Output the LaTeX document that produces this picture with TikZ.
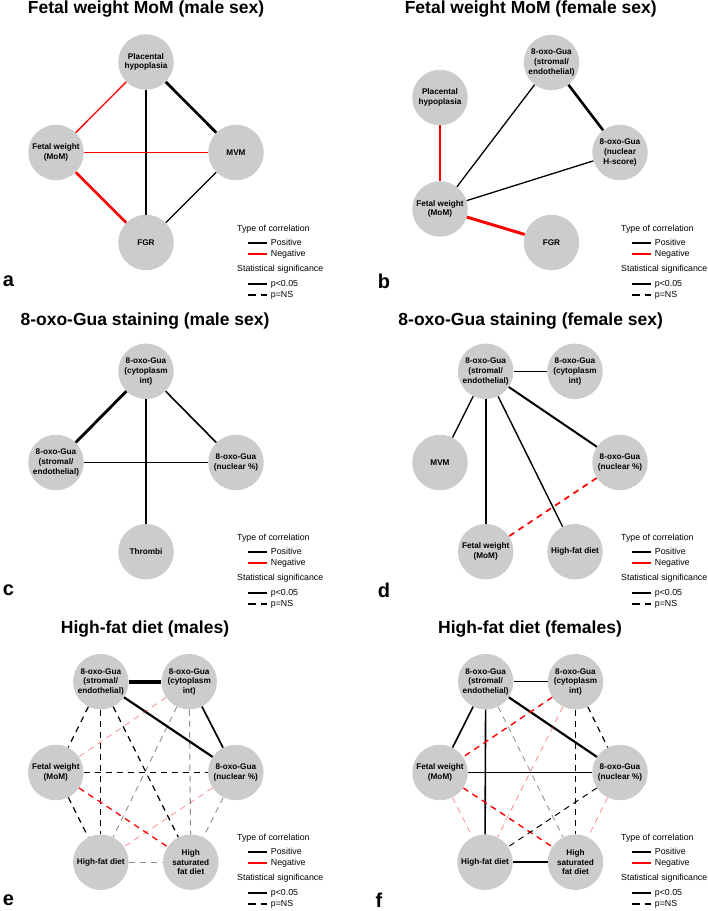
\documentclass[tikz,border=0pt]{standalone}
\usepackage{fontspec}
\setmainfont{Liberation Sans}
\usetikzlibrary{positioning}
\definecolor{nodegray}{RGB}{204,204,204}
\definecolor{negred}{RGB}{255,0,0}

\begin{document}
\begin{tikzpicture}[
        x=1pt, y=-1pt,
        var/.style={
            circle, fill=nodegray, minimum size=55.5pt,
            inner sep=0pt, align=center,
            font=\bfseries\fontsize{8.2}{9.7}\selectfont
        },
        paneltitle/.style={anchor=base, font=\bfseries\fontsize{17.5}{20}\selectfont},
        panellabel/.style={font=\bfseries\fontsize{20}{22}\selectfont},
        legtext/.style={anchor=west, inner sep=0pt, font=\fontsize{8.8}{10}\selectfont},
        poscor/.style={draw=black},
        negcor/.style={draw=negred},
        ns/.style={dash pattern=on 6pt off 5pt},
        faint/.style={draw opacity=0.45},
        lw/.style={line width=#1pt}
      ]
        \useasboundingbox (0,0) rectangle (708,911);

        % titles and panel letters
        \node[paneltitle] (a-title) at (146,13.4) {Fetal weight MoM (male sex)};
        \node[paneltitle] (b-title) at (530.7,13.4) {Fetal weight MoM (female sex)};
        \node[paneltitle] (c-title) at (145,325) {8-oxo-Gua staining (male sex)};
        \node[paneltitle] (d-title) at (530.7,325) {8-oxo-Gua staining (female sex)};
        \node[paneltitle] (e-title) at (145,633.3) {High-fat diet (males)};
        \node[paneltitle] (f-title) at (530,633.3) {High-fat diet (females)};
        \node[panellabel] (a-lab) at (8.5,281) {a};
        \node[panellabel] (b-lab) at (384,281) {b};
        \node[panellabel] (c-lab) at (8.5,590) {c};
        \node[panellabel] (d-lab) at (384,590) {d};
        \node[panellabel] (e-lab) at (8.5,900) {e};
        \node[panellabel] (f-lab) at (379,900) {f};

        % legends
        \foreach \lx/\ly [count=\i] in {237/229.3, 621/229.3, 237/538.3, 621/538.3, 237/838.3, 621/838.3} {
          \begin{scope}[shift={(\lx,\ly)}]
            \node[legtext] (leg\i-type) at (0,0) {Type of correlation};
            \draw[poscor, lw=2.2] (11,13.4) -- (29.7,13.4);
            \node[legtext] (leg\i-pos) at (33.7,13.4) {Positive};
            \draw[negcor, lw=2.2] (11,24.7) -- (29.7,24.7);
            \node[legtext] (leg\i-neg) at (33.7,24.7) {Negative};
            \node[legtext] (leg\i-sig) at (0,40) {Statistical significance};
            \draw[poscor, lw=1.8] (11,54.7) -- (29.7,54.7);
            \node[legtext] (leg\i-p) at (33.7,54.7) {p<0.05};
            \draw[poscor, lw=1.8, dash pattern=on 8pt off 5pt] (11,65.7) -- (29.7,65.7);
            \node[legtext] (leg\i-ns) at (33.7,65.7) {p=NS};
          \end{scope}
        }

        % panel a
        \node[var] (a-plac) at (146,62) {Placental\\hypoplasia};
        \node[var] (a-fw) at (56,152.5) {Fetal weight\\(MoM)};
        \node[var] (a-mvm) at (236,152.5) {MVM};
        \node[var] (a-fgr) at (146,242.5) {FGR};
        \draw[negcor, lw=1.3] (a-plac) -- (a-fw);
        \draw[poscor, lw=2.7] (a-plac) -- (a-mvm);
        \draw[poscor, lw=1.3] (a-plac) -- (a-fgr);
        \draw[negcor, lw=1.7] (a-fw) -- (a-mvm);
        \draw[negcor, lw=2.8] (a-fw) -- (a-fgr);
        \draw[poscor, lw=1.3] (a-mvm) -- (a-fgr);

        % panel b
        \node[var] (b-strom) at (551.5,62.5) {8-oxo-Gua\\(stromal/\\endothelial)};
        \node[var] (b-plac) at (440,97.5) {Placental\\hypoplasia};
        \node[var] (b-nuc) at (620,152.5) {8-oxo-Gua\\(nuclear\\H-score)};
        \node[var] (b-fw) at (440,209) {Fetal weight\\(MoM)};
        \node[var] (b-fgr) at (551.5,242.5) {FGR};
        \draw[poscor, lw=1.3] (b-strom) -- (b-fw);
        \draw[poscor, lw=2.6] (b-strom) -- (b-nuc);
        \draw[poscor, lw=1.3] (b-nuc) -- (b-fw);
        \draw[negcor, lw=1.2] (b-plac) -- (b-fw);
        \draw[negcor, lw=3] (b-fw) -- (b-fgr);

        % panel c
        \node[var] (c-cyto) at (146,371.3) {8-oxo-Gua\\(cytoplasm\\int)};
        \node[var] (c-strom) at (56,462.5) {8-oxo-Gua\\(stromal/\\endothelial)};
        \node[var] (c-nuc) at (236,462.5) {8-oxo-Gua\\(nuclear \%)};
        \node[var] (c-thr) at (146,551.7) {Thrombi};
        \draw[poscor, lw=2.8] (c-cyto) -- (c-strom);
        \draw[poscor, lw=1.6] (c-cyto) -- (c-nuc);
        \draw[poscor, lw=1.6] (c-cyto) -- (c-thr);
        \draw[poscor, lw=1.6] (c-strom) -- (c-nuc);

        % panel d
        \node[var] (d-strom) at (485.7,371.3) {8-oxo-Gua\\(stromal/\\endothelial)};
        \node[var] (d-cyto) at (575,371.3) {8-oxo-Gua\\(cytoplasm\\int)};
        \node[var] (d-mvm) at (440,462.5) {MVM};
        \node[var] (d-nuc) at (620,462.5) {8-oxo-Gua\\(nuclear \%)};
        \node[var] (d-fw) at (485.7,551.7) {Fetal weight\\(MoM)};
        \node[var] (d-hfd) at (575,551.7) {High-fat diet};
        \draw[poscor, lw=1.3] (d-strom) -- (d-cyto);
        \draw[poscor, lw=1.4] (d-strom) -- (d-mvm);
        \draw[poscor, lw=1.6] (d-strom) -- (d-fw);
        \draw[poscor, lw=1.4] (d-strom) -- (d-hfd);
        \draw[poscor, lw=2] (d-strom) -- (d-nuc);
        \draw[negcor, ns, lw=1.7] (d-nuc) -- (d-fw);

        % panel e
        \node[var] (e-strom) at (100.8,681.7) {8-oxo-Gua\\(stromal/\\endothelial)};
        \node[var] (e-cyto) at (189.2,681.7) {8-oxo-Gua\\(cytoplasm\\int)};
        \node[var] (e-fw) at (55.8,772.5) {Fetal weight\\(MoM)};
        \node[var] (e-nuc) at (235.8,772.5) {8-oxo-Gua\\(nuclear \%)};
        \node[var] (e-hfd) at (100.8,862.2) {High-fat diet};
        \node[var] (e-hsfd) at (190.8,862.2) {High\\saturated\\fat diet};
        \draw[poscor, lw=4] (e-strom) -- (e-cyto);
        \draw[poscor, lw=2.2] (e-strom) -- (e-nuc);
        \draw[poscor, lw=1.7] (e-cyto) -- (e-nuc);
        \draw[poscor, ns, lw=1.2] (e-strom) -- (e-fw);
        \draw[poscor, ns, lw=1.2] (e-strom) -- (e-hfd);
        \draw[poscor, ns, lw=1.2] (e-strom) -- (e-hsfd);
        \draw[poscor, ns, lw=1.2] (e-fw) -- (e-nuc);
        \draw[poscor, ns, lw=1.2] (e-fw) -- (e-hfd);
        \draw[negcor, ns, lw=1.3] (e-fw) -- (e-hsfd);
        \draw[negcor, ns, faint, lw=0.8] (e-cyto) -- (e-fw);
        \draw[negcor, ns, faint, lw=0.8] (e-nuc) -- (e-hfd);
        \draw[poscor, ns, faint, lw=0.9] (e-cyto) -- (e-hfd);
        \draw[poscor, ns, faint, lw=1] (e-cyto) -- (e-hsfd);
        \draw[poscor, ns, faint, lw=0.9] (e-nuc) -- (e-hsfd);
        \draw[poscor, ns, faint, lw=1.2] (e-hfd) -- (e-hsfd);

        % panel f
        \node[var] (f-strom) at (485.7,681.7) {8-oxo-Gua\\(stromal/\\endothelial)};
        \node[var] (f-cyto) at (575.5,681.7) {8-oxo-Gua\\(cytoplasm\\int)};
        \node[var] (f-fw) at (440,772.5) {Fetal weight\\(MoM)};
        \node[var] (f-nuc) at (620,772.5) {8-oxo-Gua\\(nuclear \%)};
        \node[var] (f-hfd) at (485,862.2) {High-fat diet};
        \node[var] (f-hsfd) at (575.5,862.2) {High\\saturated\\fat diet};
        \draw[poscor, lw=1.4] (f-strom) -- (f-cyto);
        \draw[poscor, lw=2.2] (f-strom) -- (f-nuc);
        \draw[poscor, lw=1.6] (f-strom) -- (f-fw);
        \draw[poscor, lw=1.6] (f-strom) -- (f-hfd);
        \draw[poscor, lw=1.4] (f-fw) -- (f-nuc);
        \draw[poscor, lw=1.6] (f-hfd) -- (f-hsfd);
        \draw[negcor, ns, lw=1.4] (f-cyto) -- (f-fw);
        \draw[negcor, ns, lw=1.4] (f-fw) -- (f-hsfd);
        \draw[poscor, ns, lw=1.2] (f-cyto) -- (f-hsfd);
        \draw[poscor, ns, lw=1.2] (f-cyto) -- (f-nuc);
        \draw[poscor, ns, lw=1] (f-nuc) -- (f-hfd);
        \draw[poscor, ns, faint, lw=0.8] (f-strom) -- (f-hsfd);
        \draw[negcor, ns, faint, lw=0.8] (f-cyto) -- (f-hfd);
        \draw[negcor, ns, faint, lw=0.8] (f-fw) -- (f-hfd);
        \draw[negcor, ns, faint, lw=0.8] (f-nuc) -- (f-hsfd);
\end{tikzpicture}
\end{document}
